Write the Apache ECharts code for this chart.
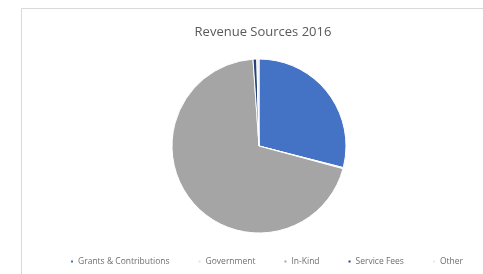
<!DOCTYPE html>
<html>
<head>
<meta charset="utf-8">
<script src="https://cdn.jsdelivr.net/npm/echarts@6/dist/echarts.min.js"></script>
<style>
  html, body { margin: 0; padding: 0; background: #fff; }
  #chart { width: 483px; height: 274px; }
</style>
</head>
<body>
<div id="chart"></div>
<script>
  // 数据
  var categories = ['Grants & Contributions', 'Government', 'In-Kind', 'Service Fees', 'Other'];
  var values = [29.0, 0.2, 69.7, 0.7, 0.4];
  var colors = ['#4472C4', '#E3E3E3', '#A5A5A5', '#264478', '#E8E8E8'];

  var chart = echarts.init(document.getElementById('chart'));
  chart.setOption({
    animation: false,
    color: colors,
    title: {
      text: 'Revenue Sources 2016',
      left: 258,
      textAlign: 'center',
      top: 21,
      textStyle: { fontFamily: 'Open Sans', fontSize: 13, fontWeight: 'normal', color: '#595959' }
    },
    // 外框
    graphic: [{
      type: 'rect',
      shape: { x: 21.5, y: 8.5, width: 480, height: 290 },
      style: { fill: 'none', stroke: '#d9d9d9', lineWidth: 1 },
      silent: true
    }],
    legend: {
      bottom: 3,
      left: 64,
      orient: 'horizontal',
      itemWidth: 4,
      itemHeight: 4,
      itemGap: 27,
      icon: 'rect',
      textStyle: { fontFamily: 'Open Sans', fontSize: 8.5, color: '#6f6f6f', padding: [0, 0, 0, -1] },
      data: categories
    },
    series: [{
      type: 'pie',
      center: [259, 146],
      radius: 87,
      startAngle: 90,
      clockwise: true,
      label: { show: false },
      labelLine: { show: false },
      itemStyle: { borderColor: '#ffffff', borderWidth: 1 },
      data: categories.map(function (c, i) { return { name: c, value: values[i] }; })
    }]
  });
</script>
</body>
</html>
